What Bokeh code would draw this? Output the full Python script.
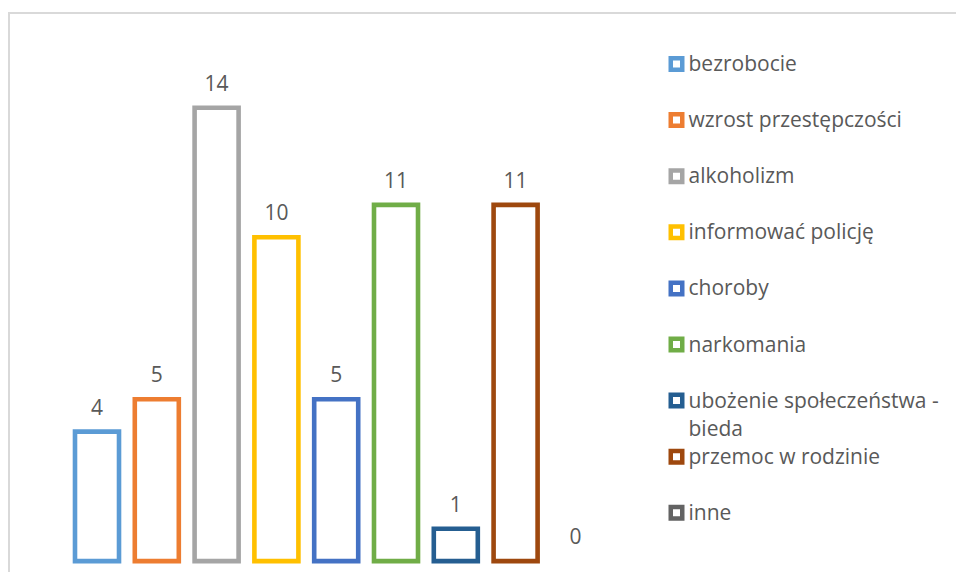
from bokeh.plotting import figure
from bokeh.models import Range1d, ColumnDataSource
from bokeh.core.properties import value
from bokeh.embed import file_html
from bokeh.resources import INLINE

# ---- data ----
categories = ["bezrobocie", "wzrost przestępczości", "alkoholizm", "informować policję",
              "choroby", "narkomania", "ubożenie społeczeństwa -\nbieda",
              "przemoc w rodzinie", "inne"]
values = [4, 5, 14, 10, 5, 11, 1, 11, 0]
colors = ["#5B9BD5", "#ED7D31", "#A5A5A5", "#FFC000", "#4472C4",
          "#70AD47", "#255E91", "#9E480E", "#636363"]

# ---- layout constants ----
W, H = 948, 560
PX_PER_BAR = 59.8
PX_PER_UNIT = 32.38
FIRST_BAR_PX = 86.5
BASE_PX_FROM_BOTTOM = 13.4
LEG_TOP_PX = 49.5
LEG_STEP_PX = 56.1
LEG_MARK_PX = 666
FONT = "Open Sans"
TXT = "#595959"

x0 = -FIRST_BAR_PX / PX_PER_BAR
y0 = -BASE_PX_FROM_BOTTOM / PX_PER_UNIT
ly0 = -LEG_TOP_PX / LEG_STEP_PX

p = figure(width=W, height=H, output_backend="svg", toolbar_location=None,
           x_range=Range1d(x0, x0 + W / PX_PER_BAR),
           y_range=Range1d(y0, y0 + H / PX_PER_UNIT),
           x_axis_type=None, y_axis_type=None,
           min_border_left=0, min_border_right=0, min_border_top=0, min_border_bottom=0)
p.extra_y_ranges = {"leg": Range1d(ly0 + H / LEG_STEP_PX, ly0)}
p.outline_line_color = None
p.background_fill_color = "white"
p.border_fill_color = "white"
p.styles = {"border-top": "2px solid #d9d9d9", "border-left": "2px solid #d9d9d9",
            "margin-top": "12px", "margin-left": "8px"}

idx = list(range(len(categories)))
src = ColumnDataSource(dict(
    x=idx, top=values, color=colors,
    alpha=[0 if v == 0 else 1 for v in values],
    label=[str(v) for v in values],
))

p.vbar(x="x", top="top", bottom=0, width=0.736, source=src,
       fill_color="white", line_color="color", line_width=4.6,
       line_alpha="alpha", line_join="miter")

p.text(x="x", y="top", text="label", source=src, y_offset=-25,
       text_align="center", text_baseline="middle",
       text_font=value(FONT), text_font_size="21px", text_color=TXT)

# legend built from the category list
leg_x = x0 + LEG_MARK_PX / PX_PER_BAR
p.scatter(x=[leg_x] * len(categories), y=idx, marker="square", size=11.5,
          line_width=4.5, fill_color="white", line_color=colors,
          line_join="miter", y_range_name="leg")

lx, ly, lt = [], [], []
for k, cat in enumerate(categories):
    for j, line in enumerate(cat.split("\n")):
        lx.append(leg_x)
        ly.append(k + 0.5 * j)
        lt.append(line)
p.text(x=lx, y=ly, text=lt, x_offset=12, y_offset=-1, text_align="left",
       text_baseline="middle",
       text_font=value(FONT), text_font_size="21px", text_color=TXT,
       y_range_name="leg")

open("out.html", "w").write(file_html(p, INLINE))
